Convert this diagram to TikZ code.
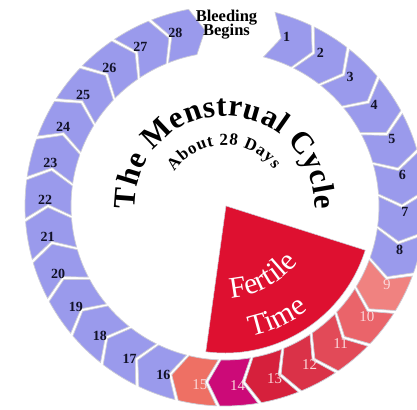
\documentclass[tikz,border=0pt]{standalone}
\usepackage{fontspec}
\setmainfont{Liberation Serif}
\usetikzlibrary{decorations.text}
\definecolor{dayblue}{RGB}{154,154,236}
\definecolor{numdark}{RGB}{18,18,40}
\definecolor{wedgered}{RGB}{222,16,48}
\definecolor{d9}{RGB}{240,130,128}
\definecolor{d10}{RGB}{234,100,106}
\definecolor{d11}{RGB}{226,74,88}
\definecolor{d12}{RGB}{218,50,72}
\definecolor{d13}{RGB}{214,32,60}
\definecolor{d14}{RGB}{204,10,120}
\definecolor{d15}{RGB}{238,112,100}
\definecolor{numlight}{RGB}{250,215,218}
\definecolor{edgec}{RGB}{205,205,215}
\tikzset{
  segment/.style={draw=edgec, line width=0.7pt},
  daynum/.style={font=\bfseries\fontsize{14}{14}\selectfont, inner sep=0pt},
  fertnum/.style={font=\fontsize{15}{15}\selectfont, inner sep=0pt},
  bleed/.style={font=\bfseries\fontsize{16.5}{16.5}\selectfont, inner sep=0pt, anchor=base, text=black},
}
\begin{document}
\begin{tikzpicture}[x=1pt,y=1pt]
\clip (-225,-203) rectangle (192,206);
\fill[white] (-225,-203) rectangle (192,206);
% ring of days
\foreach \k in {1,...,28} {
  \pgfmathsetmacro{\th}{70-12*(\k-1)}
  \pgfmathsetmacro{\a}{\th+5.5}
  \pgfmathsetmacro{\b}{\th-5.5}
  \ifnum\k<9
    \def\segc{dayblue}\def\numc{numdark}\def\nst{daynum}
  \else\ifnum\k>15
    \def\segc{dayblue}\def\numc{numdark}\def\nst{daynum}
  \else
    \edef\segc{d\k}\def\numc{numlight}\def\nst{fertnum}
  \fi\fi
  \path[segment, fill=\segc] (\a:200) arc[start angle=\a, end angle=\b, radius=200]
     -- ({\b-4}:177) -- (\b:154) arc[start angle=\b, end angle=\a, radius=154]
     -- ({\a-4}:177) -- cycle;
  \node[\nst, text=\numc] (n\k) at (\th:180) {\k};
}
% fertile wedge
\path[fill=wedgered, draw=edgec, line width=0.5pt] (1,0) -- (-97.5:147) arc[start angle=-97.5, end angle=-17.5, radius=147] -- cycle;
% titles
\path[decorate, decoration={text along path, text align={fit to path},
   text={|\bfseries\fontsize{31}{31}\selectfont|The Menstrual Cycle}}]
   (182:90) arc[start angle=182, end angle=-2, radius=90];
\path[decorate, decoration={text along path, text align={fit to path},
   text={|\bfseries\fontsize{17}{17}\selectfont|About 28 Days}}]
   (146:61) arc[start angle=146, end angle=37, radius=61];
\path[decorate, decoration={text along path, text align=center,
   text={|\color{white}\fontsize{30}{30}\selectfont|Fertile}}]
   (-102:92) arc[start angle=-102, end angle=-22, radius=92];
\path[decorate, decoration={text along path, text align=center,
   text={|\color{white}\fontsize{30}{30}\selectfont|Time}}]
   (-105:133) arc[start angle=-105, end angle=-25, radius=133];
% bleeding begins
\node[bleed] (bl1) at (1.5,184.3) {Bleeding};
\node[bleed] (bl2) at (1.5,170) {Begins};
\end{tikzpicture}
\end{document}
